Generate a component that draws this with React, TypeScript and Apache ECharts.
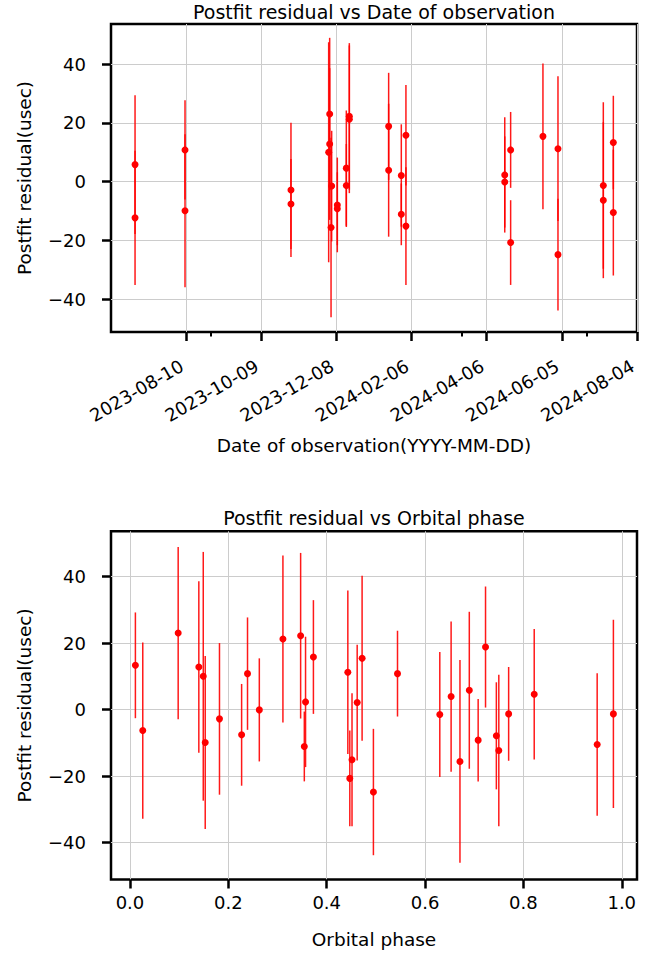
import { useEffect, useRef } from "react";
import * as echarts from "echarts";

// Observation epochs (MJD), postfit residuals (usec), 1-sigma uncertainties (usec) and orbital phase
const obsMJD = [
  60125.2, 60125.2, 60165.1, 60165.1, 60249.7, 60249.7, 60280.6, 60280.6, 60279.8, 60282.2,
  60281.7, 60286.7, 60286.7, 60293.9, 60293.9, 60296.3, 60296.3, 60327.7, 60327.7, 60337.8,
  60337.8, 60341.5, 60341.5, 60420.4, 60420.4, 60425.1, 60425.1, 60450.9, 60462.9, 60462.9,
  60499.1, 60499.1, 60507.1, 60507.1,
];
const residualUsec = [
  5.8, -12.3, 10.8, -9.9, -2.8, -7.6, 23.0, 12.8, 10.0, -1.5,
  -15.6, -7.9, -9.2, 4.6, -1.3, 22.2, 21.2, 18.8, 3.9, 2.1,
  -11.1, 15.8, -15.1, 2.3, -0.1, 10.8, -20.7, 15.4, 11.2, -24.8,
  -1.3, -6.3, 13.3, -10.5,
];
const errorUsec = [
  23.6, 22.8, 16.9, 26.0, 22.8, 15.3, 25.9, 25.8, 37.4, 18.8,
  30.5, 16.1, 12.4, 19.6, 14.1, 24.9, 25.1, 18.2, 22.6, 17.4,
  10.5, 17.1, 20.0, 19.6, 15.5, 12.9, 14.4, 24.8, 24.6, 19.0,
  28.3, 26.5, 15.9, 21.4,
];
const orbitalPhase = [
  0.690, 0.750, 0.239, 0.153, 0.182, 0.227, 0.098, 0.140, 0.149, 0.630,
  0.671, 0.745, 0.708, 0.822, 0.770, 0.347, 0.311, 0.723, 0.653, 0.462,
  0.3545, 0.373, 0.4515, 0.357, 0.263, 0.544, 0.447, 0.472, 0.443, 0.495,
  0.983, 0.026, 0.011, 0.950,
];

// Axis ticks
const dateTickMJD = [60166, 60226, 60286, 60346, 60406, 60466, 60526];
const dateMinorTickMJD = [60185.6, 60386.3, 60485.8];
const residualTicks = [-40, -20, 0, 20, 40];
const phaseTicks = [0, 0.2, 0.4, 0.6, 0.8, 1.0];

const FONT = "DejaVu Sans";

function mjdToDate(mjd: number): string {
  const ms = Math.round((mjd - 40587) * 86400000);
  return new Date(ms).toISOString().slice(0, 10);
}

function fmtNum(v: number): string {
  const s = String(Math.abs(v));
  return v < 0 ? "\u2212" + s : s;
}

function errorBarSeries(xs: number[], xIdx: number, yIdx: number) {
  return {
    type: "custom",
    xAxisIndex: xIdx,
    yAxisIndex: yIdx,
    silent: true,
    z: 2,
    data: xs.map((x, i) => [x, residualUsec[i] - errorUsec[i], residualUsec[i] + errorUsec[i]]),
    renderItem: (_params: any, api: any) => {
      const x = api.value(0);
      const p1 = api.coord([x, api.value(1)]);
      const p2 = api.coord([x, api.value(2)]);
      return {
        type: "line",
        shape: { x1: p1[0], y1: p1[1], x2: p2[0], y2: p2[1] },
        style: { stroke: "rgba(255,0,0,0.9)", lineWidth: 1.5 },
      };
    },
  };
}

function pointSeries(xs: number[], xIdx: number, yIdx: number) {
  return {
    type: "scatter",
    xAxisIndex: xIdx,
    yAxisIndex: yIdx,
    symbol: "circle",
    symbolSize: 7,
    z: 3,
    itemStyle: { color: "#ff0000", opacity: 1 },
    data: xs.map((x, i) => [x, residualUsec[i]]),
  };
}

const tickLine = { color: "#000", width: 2.5 };
const gridLine = { show: true, lineStyle: { color: "#cccccc", width: 1 } };
const labelStyle = { color: "#000", fontFamily: FONT, fontSize: 18 };
const nameStyle = { color: "#000", fontFamily: FONT, fontSize: 18.5 };
const titleStyle = { color: "#000", fontFamily: FONT, fontSize: 19, fontWeight: "normal" };

function yAxis(gridIndex: number) {
  return {
    type: "value",
    gridIndex,
    min: -51.1,
    max: 53.6,
    name: "Postfit residual(usec)",
    nameLocation: "middle",
    nameGap: 77,
    nameTextStyle: nameStyle,
    axisLine: { show: false, onZero: false },
    axisTick: { show: true, customValues: residualTicks, length: 9, lineStyle: tickLine },
    axisLabel: { customValues: residualTicks, margin: 25, formatter: (v: number) => fmtNum(v), ...labelStyle },
    splitLine: gridLine,
  };
}

export default function App() {
  const ref = useRef<HTMLDivElement>(null);
  useEffect(() => {
    if (!ref.current) return;
    const chart = echarts.init(ref.current, null, { renderer: "svg" });
    chart.setOption({
      animation: false,
      backgroundColor: "#ffffff",
      title: [
        {
          text: "Postfit residual vs Date of observation",
          left: 374,
          top: 2,
          padding: 0,
          textAlign: "center",
          textStyle: titleStyle,
        },
        {
          text: "Postfit residual vs Orbital phase",
          left: 374,
          top: 508,
          padding: 0,
          textAlign: "center",
          textStyle: titleStyle,
        },
      ],
      grid: [
        { left: 111, right: 28, top: 24, height: 308, show: true, borderColor: "#000", borderWidth: 2.5, backgroundColor: "transparent" },
        { left: 111, right: 28, top: 531.3, height: 348.2, show: true, borderColor: "#000", borderWidth: 2.5, backgroundColor: "transparent" },
      ],
      xAxis: [
        {
          type: "value",
          gridIndex: 0,
          position: "bottom",
          min: 60106,
          max: 60526,
          name: "Date of observation(YYYY-MM-DD)",
          nameLocation: "middle",
          nameGap: 104,
          nameTextStyle: nameStyle,
          axisLine: { show: false, onZero: false },
          axisTick: { show: true, customValues: dateTickMJD, length: 9, lineStyle: tickLine },
          axisLabel: {
            customValues: dateTickMJD,
            rotate: 30,
            margin: 30,
            padding: [0, 5, 0, 0],
            showMinLabel: true,
            showMaxLabel: true,
            formatter: (v: number) => mjdToDate(v),
            ...labelStyle,
          },
          splitLine: gridLine,
        },
        {
          type: "value",
          gridIndex: 0,
          position: "bottom",
          min: 60106,
          max: 60526,
          axisLine: { show: false, onZero: false },
          axisTick: { show: true, customValues: dateMinorTickMJD, length: 4.5, lineStyle: { color: "#000", width: 2 } },
          axisLabel: { show: false },
          splitLine: { show: false },
        },
        {
          type: "value",
          gridIndex: 1,
          position: "bottom",
          min: -0.0386,
          max: 1.031,
          name: "Orbital phase",
          nameLocation: "middle",
          nameGap: 50,
          nameTextStyle: nameStyle,
          axisLine: { show: false, onZero: false },
          axisTick: { show: true, customValues: phaseTicks, length: 9, lineStyle: tickLine },
          axisLabel: { customValues: phaseTicks, margin: 14, formatter: (v: number) => v.toFixed(1), ...labelStyle },
          splitLine: gridLine,
        },
      ],
      yAxis: [yAxis(0), yAxis(1)],
      series: [
        errorBarSeries(obsMJD, 0, 0),
        pointSeries(obsMJD, 0, 0),
        errorBarSeries(orbitalPhase, 2, 1),
        pointSeries(orbitalPhase, 2, 1),
      ],
    });
    return () => chart.dispose();
  }, []);
  return <div ref={ref} style={{ position: "absolute", left: 0, top: 0, width: 665, height: 958 }} />;
}
